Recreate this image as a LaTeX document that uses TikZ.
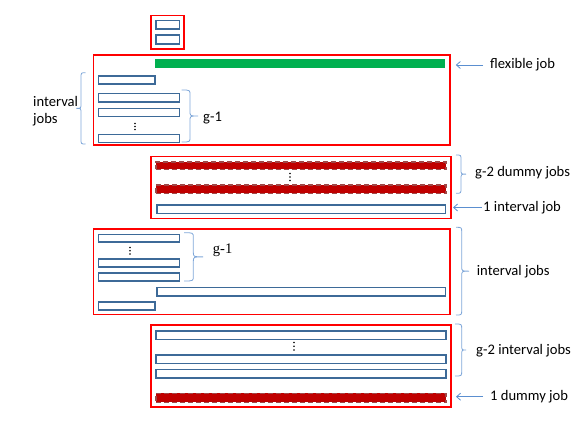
\documentclass[tikz,border=0pt]{standalone}
\usepackage{fontspec}
\setmainfont{Carlito}
\newfontfamily\timesf{Liberation Serif}
\usetikzlibrary{arrows.meta}
\definecolor{boxred}{HTML}{FF0000}
\definecolor{jobblue}{HTML}{3D6A98}
\definecolor{flexgreen}{HTML}{00B050}
\definecolor{dummyred}{HTML}{C00000}
\definecolor{dummyedge}{HTML}{A04848}
\definecolor{bracecol}{HTML}{7FA7D9}
\definecolor{arrowcol}{HTML}{5B8FD0}
\newcommand\bx[6]{\node[#1, anchor=north west, minimum width={#5-#3-1.6}, minimum height={#6-#4-1.6}] (#2) at (#3+0.8,#4+0.8) {};}
\newcommand\bracer[5]{\draw[bracel] (#1,#4) .. controls (#2,#4) .. (#2,#4+5) -- (#2,{(#4+#5)/2-5}) .. controls (#2,{(#4+#5)/2}) .. (#3,{(#4+#5)/2}) .. controls (#2,{(#4+#5)/2}) .. (#2,{(#4+#5)/2+5}) -- (#2,#5-5) .. controls (#2,#5) .. (#1,#5);}
\newcommand\vdotsat[3]{\fill (#1,#2) circle (0.8) (#1,{(#2+#3)/2}) circle (0.8) (#1,#3) circle (0.8);}
\begin{document}
\begin{tikzpicture}[x=1pt,y=-1pt,
 groupbox/.style={draw=boxred, line width=1.6pt, inner sep=0pt},
 ijob/.style={draw=jobblue, line width=1.7pt, fill=white, inner sep=0pt},
 fjob/.style={fill=flexgreen, inner sep=0pt},
 djob/.style={fill=dummyred, draw=dummyedge, line width=1.8pt, dash pattern=on 5pt off 3pt, inner sep=0pt},
 lbl/.style={anchor=west, inner sep=0pt, font=\fontsize{14.6}{17.3}\selectfont},
 bracel/.style={draw=bracecol, line width=0.8pt},
 pointer/.style={draw=arrowcol, line width=0.8pt, -{Straight Barb[length=4pt,width=7pt]}}]
\useasboundingbox (0,0) rectangle (581,436);
% top group
\bx{groupbox}{g0}{149.3}{14}{184}{49}
\bx{ijob}{t1}{154.3}{19}{179.3}{29}
\bx{ijob}{t2}{154.3}{33.3}{179.3}{44}
% group 1
\bx{groupbox}{g1}{91.7}{53.3}{450}{145}
\bx{fjob}{flex}{154}{57.7}{446}{68.3}
\bx{ijob}{a1}{96.7}{74.3}{155}{84.3}
\bx{ijob}{a2}{96.7}{91.7}{179.3}{101.7}
\bx{ijob}{a3}{96.7}{106.7}{179.3}{116.3}
\bx{ijob}{a4}{96.7}{132.7}{179.3}{142.3}
\vdotsat{135}{123.5}{129.5}
% group 2
\bx{groupbox}{g2}{149.3}{154.7}{450.7}{218.3}
\bx{djob}{d1}{154}{160}{446}{169.3}
\bx{djob}{d2}{154}{183.3}{446}{193.3}
\bx{ijob}{b1}{155}{203.3}{445.3}{213.3}
\vdotsat{290}{173.5}{180.5}
% group 3
\bx{groupbox}{g3}{91.7}{227.3}{450}{314.3}
\bx{ijob}{c1}{96.7}{232.7}{179.3}{242}
\bx{ijob}{c2}{96.7}{257.3}{179.3}{266.7}
\bx{ijob}{c3}{96.7}{271}{179.3}{281}
\bx{ijob}{c4}{155}{285.7}{445.3}{295.7}
\bx{ijob}{c5}{96.7}{300}{155}{310}
\vdotsat{130}{247.5}{254}
% group 4
\bx{groupbox}{g4}{149.3}{323.3}{450.7}{406.7}
\bx{ijob}{e1}{154.3}{329.3}{446}{339.3}
\bx{ijob}{e2}{154.3}{353.3}{446}{363.3}
\bx{ijob}{e3}{154.3}{367.7}{446}{377.7}
\bx{djob}{e4}{154.3}{391.7}{446}{402.3}
\vdotsat{294}{342.5}{350}
% labels
\node[lbl] (lflex) at (490,65) {flexible job};
\node[lbl] (ldum) at (475,173) {g-2 dummy jobs};
\node[lbl] (lint1) at (483,207.5) {1 interval job};
\node[lbl] (lint3) at (476.7,271.7) {interval jobs};
\node[lbl] (lint4) at (476,350.7) {g-2 interval jobs};
\node[lbl] (ldum1) at (490,396.7) {1 dummy job};
\node[lbl] (lg1) at (203,118) {g-1};
\node[lbl, font=\timesf\fontsize{14.6}{17.3}\selectfont] (lg3) at (212.7,250) {g-1};
\node[lbl, align=left] (lint) at (33,111) {interval\\jobs};
% arrows
\draw[pointer] ([xshift=-7pt]lflex.west) -- ([xshift=5pt]lflex.west -| g1.east);
\draw[pointer] ([xshift=-1.5pt]lint1.west) -- ([xshift=1.5pt]lint1.west -| g2.east);
\draw[pointer] ([xshift=-7pt]ldum1.west) -- ([xshift=4.5pt]ldum1.west -| g4.east);
% braces
\bracer{181.7}{190}{198}{90}{142}
\bracer{85.5}{81}{76.5}{72.7}{144}
\bracer{456}{461}{466}{155}{193.3}
\bracer{184}{193.3}{203}{232.7}{281}
\bracer{456}{461.7}{469}{227.3}{315}
\bracer{455}{461.7}{466}{324}{376}
\end{tikzpicture}
\end{document}
